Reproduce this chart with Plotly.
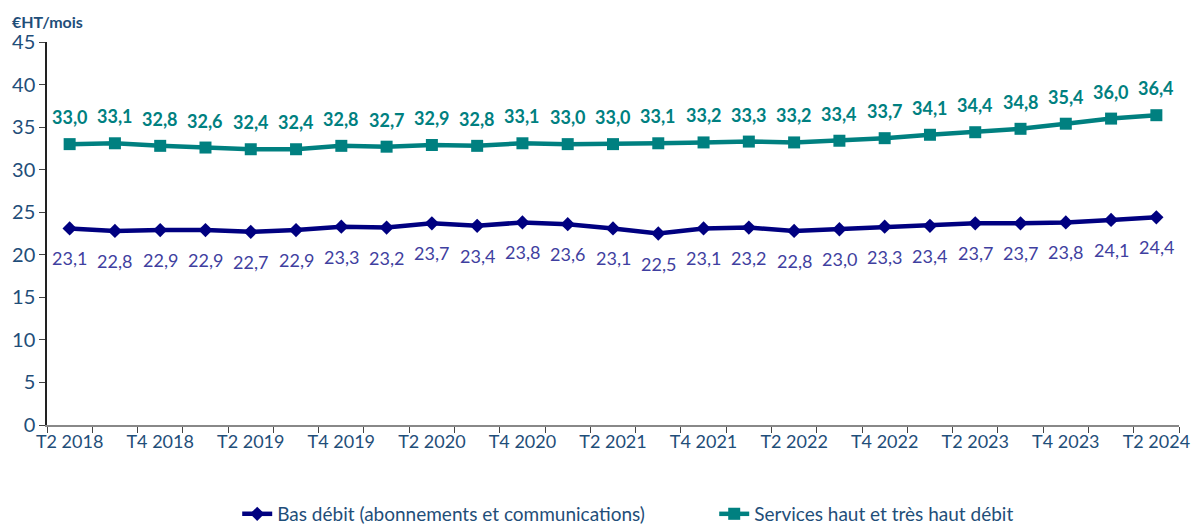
import plotly.graph_objects as go

quarters = [
    "T2 2018", "T3 2018", "T4 2018", "T1 2019", "T2 2019", "T3 2019", "T4 2019",
    "T1 2020", "T2 2020", "T3 2020", "T4 2020", "T1 2021", "T2 2021", "T3 2021",
    "T4 2021", "T1 2022", "T2 2022", "T3 2022", "T4 2022", "T1 2023", "T2 2023",
    "T3 2023", "T4 2023", "T1 2024", "T2 2024",
]
bas_debit = [23.1, 22.8, 22.9, 22.9, 22.7, 22.9, 23.3, 23.2, 23.7, 23.4, 23.8, 23.6, 23.1,
             22.5, 23.1, 23.2, 22.8, 23.0, 23.3, 23.4, 23.7, 23.7, 23.8, 24.1, 24.4]
haut_debit = [33.0, 33.1, 32.8, 32.6, 32.4, 32.4, 32.8, 32.7, 32.9, 32.8, 33.1, 33.0, 33.0,
              33.1, 33.2, 33.3, 33.2, 33.4, 33.7, 34.1, 34.4, 34.8, 35.4, 36.0, 36.4]
name_bas = "Bas débit (abonnements et communications)"
name_haut = "Services haut et très haut débit"
y_title = "€HT/mois"

NAVY = "#000080"
NAVY_LBL = "#3F3FA0"
TEAL = "#008080"
AXIS_TXT = "#1F4E79"
FONT = "Lato, 'Open Sans', sans-serif"

def fmt(v):
    return f"{v:.1f}".replace(".", ",")

fig = go.Figure()
fig.add_trace(go.Scatter(
    x=quarters, y=bas_debit, name=name_bas, mode="lines+markers",
    line=dict(color=NAVY, width=4.5),
    marker=dict(symbol="diamond", size=11, color=NAVY),
))
fig.add_trace(go.Scatter(
    x=quarters, y=haut_debit, name=name_haut, mode="lines+markers",
    line=dict(color=TEAL, width=4.5),
    marker=dict(symbol="square", size=12, color=TEAL),
))

for q, v in zip(quarters, haut_debit):
    fig.add_annotation(x=q, y=v, text=fmt(v), showarrow=False, yshift=27,
                       font=dict(family=FONT, size=18, color=TEAL, weight="bold"))
for q, v in zip(quarters, bas_debit):
    fig.add_annotation(x=q, y=v, text=fmt(v), showarrow=False, yshift=-30,
                       font=dict(family=FONT, size=18, color=NAVY_LBL))

fig.add_annotation(xref="paper", yref="paper", x=-0.033, y=1.0, yshift=21,
                   xanchor="left", yanchor="middle", text=f"<b>{y_title}</b>",
                   showarrow=False, font=dict(family=FONT, size=16, color=AXIS_TXT))

ticktext = [q if i % 2 == 0 else "" for i, q in enumerate(quarters)]

fig.update_layout(
    width=1192, height=525,
    margin=dict(l=47, r=13, t=42, b=100),
    paper_bgcolor="white", plot_bgcolor="white",
    font=dict(family=FONT, size=16, color=AXIS_TXT),
    showlegend=True,
    legend=dict(orientation="h", xref="container", yref="container",
                x=0.199, xanchor="left", y=0.021, yanchor="middle",
                font=dict(family=FONT, size=19, color=AXIS_TXT),
                entrywidth=432, entrywidthmode="pixels", itemwidth=30),
    xaxis=dict(
        type="category", tickmode="array", tickvals=quarters, ticktext=ticktext,
        tickson="boundaries", ticks="outside", ticklen=6, tickcolor="#444",
        tickangle=0, automargin=False,
        showline=True, linecolor="#888", linewidth=1.5, showgrid=False,
        range=[-0.5, len(quarters) - 0.5],
        tickfont=dict(family=FONT, size=18, color=AXIS_TXT),
    ),
    yaxis=dict(
        range=[0, 45], dtick=5, ticks="outside", ticklen=6, tickcolor="#444",
        automargin=False,
        showline=True, linecolor="#222", linewidth=1.5, showgrid=False, zeroline=False,
        tickfont=dict(family=FONT, size=20, color=AXIS_TXT),
    ),
)

fig.write_html("out.html", config={"displayModeBar": False},
               post_script="document.body.style.margin='0';document.body.style.overflow='hidden';")
